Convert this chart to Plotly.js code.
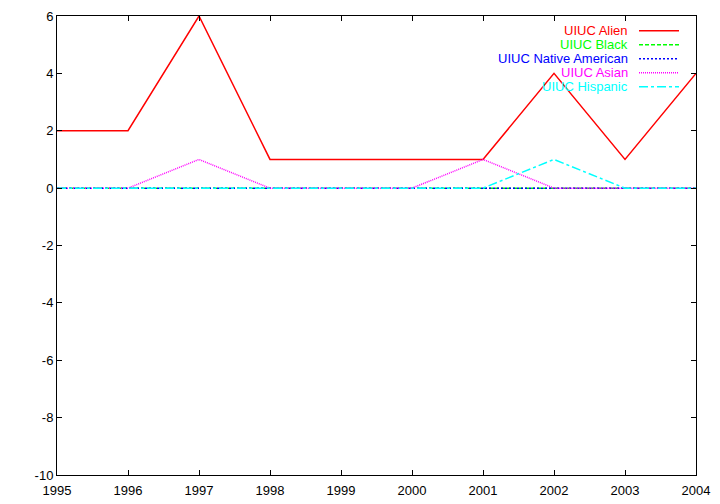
<!DOCTYPE html>
<html>
<head>
<meta charset="utf-8">
<script src="https://cdn.plot.ly/plotly-3.0.1.min.js"></script>
<style>html,body{margin:0;padding:0;background:#fff;}#chart{width:720px;height:504px;}</style>
</head>
<body>
<div id="chart"></div>
<script>
var years = [1995, 1996, 1997, 1998, 1999, 2000, 2001, 2002, 2003, 2004];
var alien = [2, 2, 6, 1, 1, 1, 1, 4, 1, 4];
var black = [0, 0, 0, 0, 0, 0, 0, 0, 0, 0];
var nativeAm = [0, 0, 0, 0, 0, 0, 0, 0, 0, 0];
var asian = [0, 0, 1, 0, 0, 0, 1, 0, 0, 0];
var hispanic = [0, 0, 0, 0, 0, 0, 0, 1, 0, 0];
var seriesNames = ["UIUC Alien", "UIUC Black", "UIUC Native American", "UIUC Asian", "UIUC Hispanic"];
var seriesData = [alien, black, nativeAm, asian, hispanic];
var colors = ["#ff0000", "#00ff00", "#0000ff", "#ff00ff", "#00ffff"];
var dashes = ["solid", "4px,2px", "2px,2px", "1px,1px", "dashdot"];
var yTicks = [-10, -8, -6, -4, -2, 0, 2, 4, 6];

var traces = seriesData.map(function (d, i) {
  return {
    x: years, y: d, type: "scatter", mode: "lines", name: seriesNames[i],
    line: {color: colors[i], width: 1.5, dash: dashes[i]}, showlegend: false
  };
});

var annotations = [], shapes = [];
var font = {family: "Liberation Sans, Arial, sans-serif", size: 13, color: "#000"};
seriesNames.forEach(function (n, i) {
  var yp = 0.968 - i * 0.0305;
  annotations.push({
    xref: "paper", yref: "paper", x: 0.8967, y: yp, xanchor: "right", yanchor: "middle",
    text: n, showarrow: false, font: {family: font.family, size: 13, color: colors[i]}
  });
  shapes.push({
    type: "line", xref: "paper", yref: "paper", x0: 0.9108, x1: 0.9734, y0: yp, y1: yp,
    line: {color: colors[i], width: 1.5, dash: dashes[i]}
  });
});

var layout = {
  width: 720, height: 504,
  margin: {l: 57, r: 24, t: 16, b: 29, pad: 0},
  paper_bgcolor: "#fff", plot_bgcolor: "#fff",
  font: font,
  showlegend: false,
  xaxis: {
    range: [1995, 2004], tickmode: "array", tickvals: years, ticktext: years.map(String),
    ticks: "inside", ticklen: 5, tickcolor: "#000", showline: true, linecolor: "#000", linewidth: 1,
    mirror: "ticks", showgrid: false, zeroline: false, tickfont: font, ticklabelstandoff: 3
  },
  yaxis: {
    range: [-10, 6], tickmode: "array", tickvals: yTicks, ticktext: yTicks.map(String),
    ticks: "inside", ticklen: 5, tickcolor: "#000", showline: true, linecolor: "#000", linewidth: 1,
    mirror: "ticks", showgrid: false, zeroline: false, tickfont: font
  },
  annotations: annotations,
  shapes: shapes
};

Plotly.newPlot("chart", traces, layout, {staticPlot: true, displayModeBar: false});
</script>
</body>
</html>
